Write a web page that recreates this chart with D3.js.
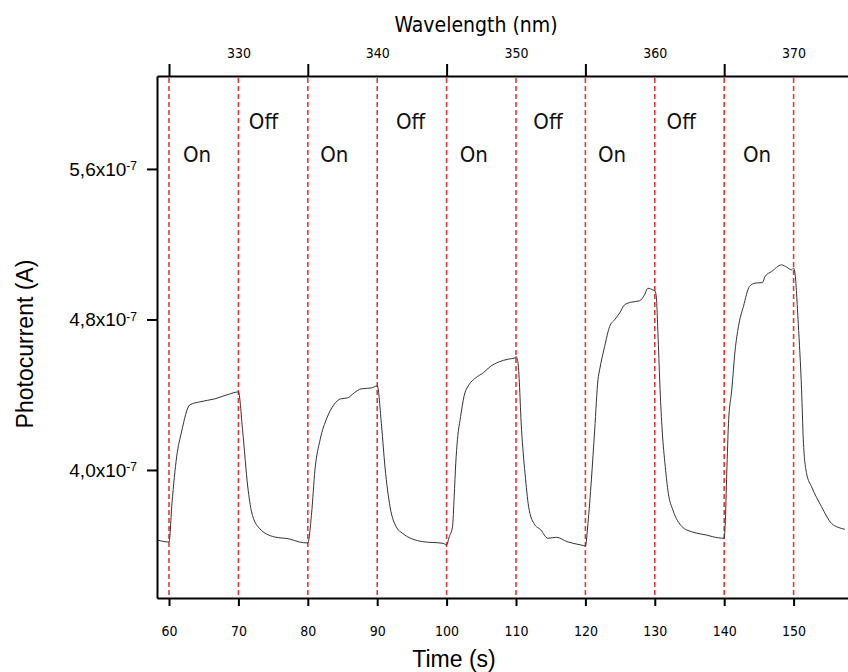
<!DOCTYPE html>
<meta charset="utf-8">
<style>
  body { margin: 0; background: #fff; }
  svg { display: block; }
  .tahoma { font-family: "DejaVu Sans Condensed", "DejaVu Sans", sans-serif; }
  .arial { font-family: "Liberation Sans", Arial, sans-serif; }
</style>
<script src="https://d3js.org/d3.v7.min.js"></script>
<div id="chart"></div>
<script>
// photocurrent trace, time in s, current in units of 1e-7 A
const timeS = [58.3, 60.0, 60.43, 61.1, 61.8, 63.0, 64.45, 66.6, 68.75, 70.0,
  70.6, 71.35, 71.9, 73.0, 75.2, 77.4, 78.8, 80.0,
  80.55, 81.03, 81.77, 82.76, 83.74, 84.73, 85.72, 86.69, 87.68, 89.16, 90.0,
  90.64, 91.12, 91.86, 92.85, 93.6, 96.55, 99.5, 100.0,
  100.38, 100.85, 101.09, 101.32, 101.56, 102.02, 102.5, 103.21, 104.14, 105.33, 106.27, 107.45, 108.87, 109.9, 110.0,
  110.3, 110.8, 111.3, 111.82, 112.58, 113.58, 114.59, 115.85, 117.36, 119.39, 120.0,
  120.37, 120.86, 121.34, 121.81, 122.05, 122.77, 123.49, 124.2, 124.93, 125.65, 126.61, 127.8, 128.52, 129.0, 129.7, 130.0,
  130.19, 130.49, 130.76, 131.06, 131.51, 131.95, 132.61, 133.94, 135.27, 136.6, 137.48, 138.36, 140.0,
  140.14, 140.37, 140.62, 141.09, 141.58, 142.05, 142.77, 143.64, 144.45, 145.5, 145.89, 146.84, 148.28, 149.0, 149.7, 150.0,
  150.2, 150.67, 151.15, 151.4, 151.87, 152.59, 154.02, 155.46, 156.42, 157.38];
const currentE7 = [3.628, 3.617, 3.824, 4.069, 4.202, 4.346, 4.362, 4.378, 4.404, 4.415,
  4.213, 3.910, 3.777, 3.691, 3.644, 3.633, 3.617, 3.612,
  3.771, 4.0, 4.160, 4.277, 4.346, 4.378, 4.383, 4.410, 4.431, 4.436, 4.447,
  4.229, 4.016, 3.803, 3.691, 3.665, 3.619, 3.610, 3.601,
  3.645, 3.698, 3.858, 4.036, 4.160, 4.284, 4.390, 4.452, 4.488, 4.518, 4.549, 4.573, 4.589, 4.596, 4.603,
  4.567, 4.213, 3.982, 3.805, 3.716, 3.681, 3.637, 3.642, 3.619, 3.601, 3.596,
  3.716, 3.947, 4.213, 4.479, 4.532, 4.656, 4.762, 4.798, 4.834, 4.878, 4.892, 4.899, 4.931, 4.966, 4.957, 4.952,
  4.931, 4.691, 4.426, 4.213, 4.018, 3.876, 3.787, 3.698, 3.672, 3.660, 3.654, 3.645, 3.637,
  3.707, 3.982, 4.248, 4.426, 4.638, 4.762, 4.869, 4.975, 4.993, 4.996, 5.028, 5.055, 5.090, 5.078, 5.064, 5.073,
  5.046, 4.780, 4.426, 4.160, 3.982, 3.911, 3.805, 3.716, 3.695, 3.685];

// axes
const timeTicks = [60, 70, 80, 90, 100, 110, 120, 130, 140, 150];
const currentTicks = [4.0, 4.8, 5.6];
const wavelengthMajorTimes = [60, 80, 100, 120, 140];   // unlabelled marks (325, 335, ... nm)
const wavelengthLabelTimes = [70, 90, 110, 130, 150];
const wavelengthLabels = [330, 340, 350, 360, 370];

// light switched at these times
const switchTimes = [60, 70, 80, 90, 100, 110, 120, 130, 140, 150];
const stateLabels = ["On", "Off", "On", "Off", "On", "Off", "On", "Off", "On"];
const stateLabelTimes = [62.0, 71.5, 81.8, 92.7, 101.9, 112.5, 121.8, 131.7, 142.7];

const W = 848, H = 672;
const plotL = 157, plotR = 848, plotT = 76, plotB = 598;

const svg = d3.select("#chart").append("svg")
    .attr("width", W).attr("height", H);

const x = d3.scaleLinear().domain([58.27, 157.84]).range([plotL, plotR]);
const y = d3.scaleLinear().domain([3.3195, 6.094]).range([plotB, plotT]);

svg.append("clipPath").attr("id", "plot")
  .append("rect").attr("x", plotL).attr("y", plotT)
    .attr("width", plotR - plotL).attr("height", plotB - plotT);

// dashed switch lines
svg.append("g").selectAll("line").data(switchTimes).enter()
  .append("line")
    .attr("x1", d => x(d)).attr("x2", d => x(d))
    .attr("y1", plotT + 2).attr("y2", plotB - 1)
    .attr("stroke", "#f03434")
    .attr("stroke-width", 1.6)
    .attr("stroke-dasharray", "5,3");

// On / Off text
svg.append("g").attr("class", "tahoma").selectAll("text")
  .data(stateLabels).enter()
  .append("text")
    .attr("x", (d, i) => x(stateLabelTimes[i]))
    .attr("y", d => d === "On" ? plotT + 86 : plotT + 53)
    .attr("font-size", 22)
    .attr("fill", "#111")
    .text(d => d);

// trace
const pts = timeS.map((t, i) => [t, currentE7[i]]);
svg.append("path")
    .datum(pts)
    .attr("clip-path", "url(#plot)")
    .attr("fill", "none")
    .attr("stroke", "#333")
    .attr("stroke-width", 1)
    .attr("d", d3.line().x(d => x(d[0])).y(d => y(d[1])).curve(d3.curveMonotoneX));

function styleAxis(g) {
  g.select(".domain").attr("stroke", "#000").attr("stroke-width", 2);
  g.selectAll(".tick line").attr("stroke", "#000").attr("stroke-width", 2);
}

// bottom axis
const xAxisG = svg.append("g")
    .attr("transform", `translate(0,${plotB})`)
    .attr("class", "tahoma")
    .call(d3.axisBottom(x).tickValues(timeTicks).tickSize(8).tickSizeOuter(0).tickPadding(20))
    .call(styleAxis);
xAxisG.attr("font-family", null);
xAxisG.selectAll("text").attr("font-size", 14).attr("fill", "#000");

// top axis: marks and labels
const topG = svg.append("g").attr("transform", `translate(0,${plotT})`).attr("class", "tahoma");
topG.append("g")
    .call(d3.axisTop(x).tickValues(wavelengthMajorTimes).tickSize(12).tickSizeOuter(0).tickFormat(""))
    .call(styleAxis);
topG.append("g")
    .call(d3.axisTop(x).tickValues(wavelengthLabelTimes).tickSize(0).tickSizeOuter(0).tickPadding(18)
      .tickFormat((d, i) => wavelengthLabels[i]))
    .attr("font-family", null)
    .call(g => g.select(".domain").remove())
    .call(g => g.selectAll("text").attr("font-size", 14).attr("fill", "#000"));

// left axis
const yAxisG = svg.append("g")
    .attr("transform", `translate(${plotL},0)`)
    .attr("class", "arial")
    .call(d3.axisLeft(y).tickValues(currentTicks).tickSize(10).tickSizeOuter(0).tickPadding(10))
    .call(styleAxis);
yAxisG.attr("font-family", null);
yAxisG.selectAll(".tick text")
    .attr("font-size", 19)
    .attr("fill", "#000")
    .text(null)
    .each(function(d) {
      const t = d3.select(this);
      t.append("tspan").text(d3.format(".1f")(d).replace(".", ",") + "x10");
      t.append("tspan").attr("dy", "-0.45em").attr("font-size", 12).text("-7");
    });

// titles
svg.append("text").attr("class", "tahoma")
    .attr("x", 476).attr("y", 32)
    .attr("text-anchor", "middle").attr("font-size", 21).attr("fill", "#000")
    .text("Wavelength (nm)");
svg.append("text").attr("class", "arial")
    .attr("x", 454).attr("y", 667)
    .attr("text-anchor", "middle").attr("font-size", 23).attr("fill", "#000")
    .text("Time (s)");
svg.append("text").attr("class", "arial")
    .attr("transform", "translate(33,344) rotate(-90)")
    .attr("text-anchor", "middle").attr("font-size", 23).attr("fill", "#000")
    .text("Photocurrent (A)");
</script>
